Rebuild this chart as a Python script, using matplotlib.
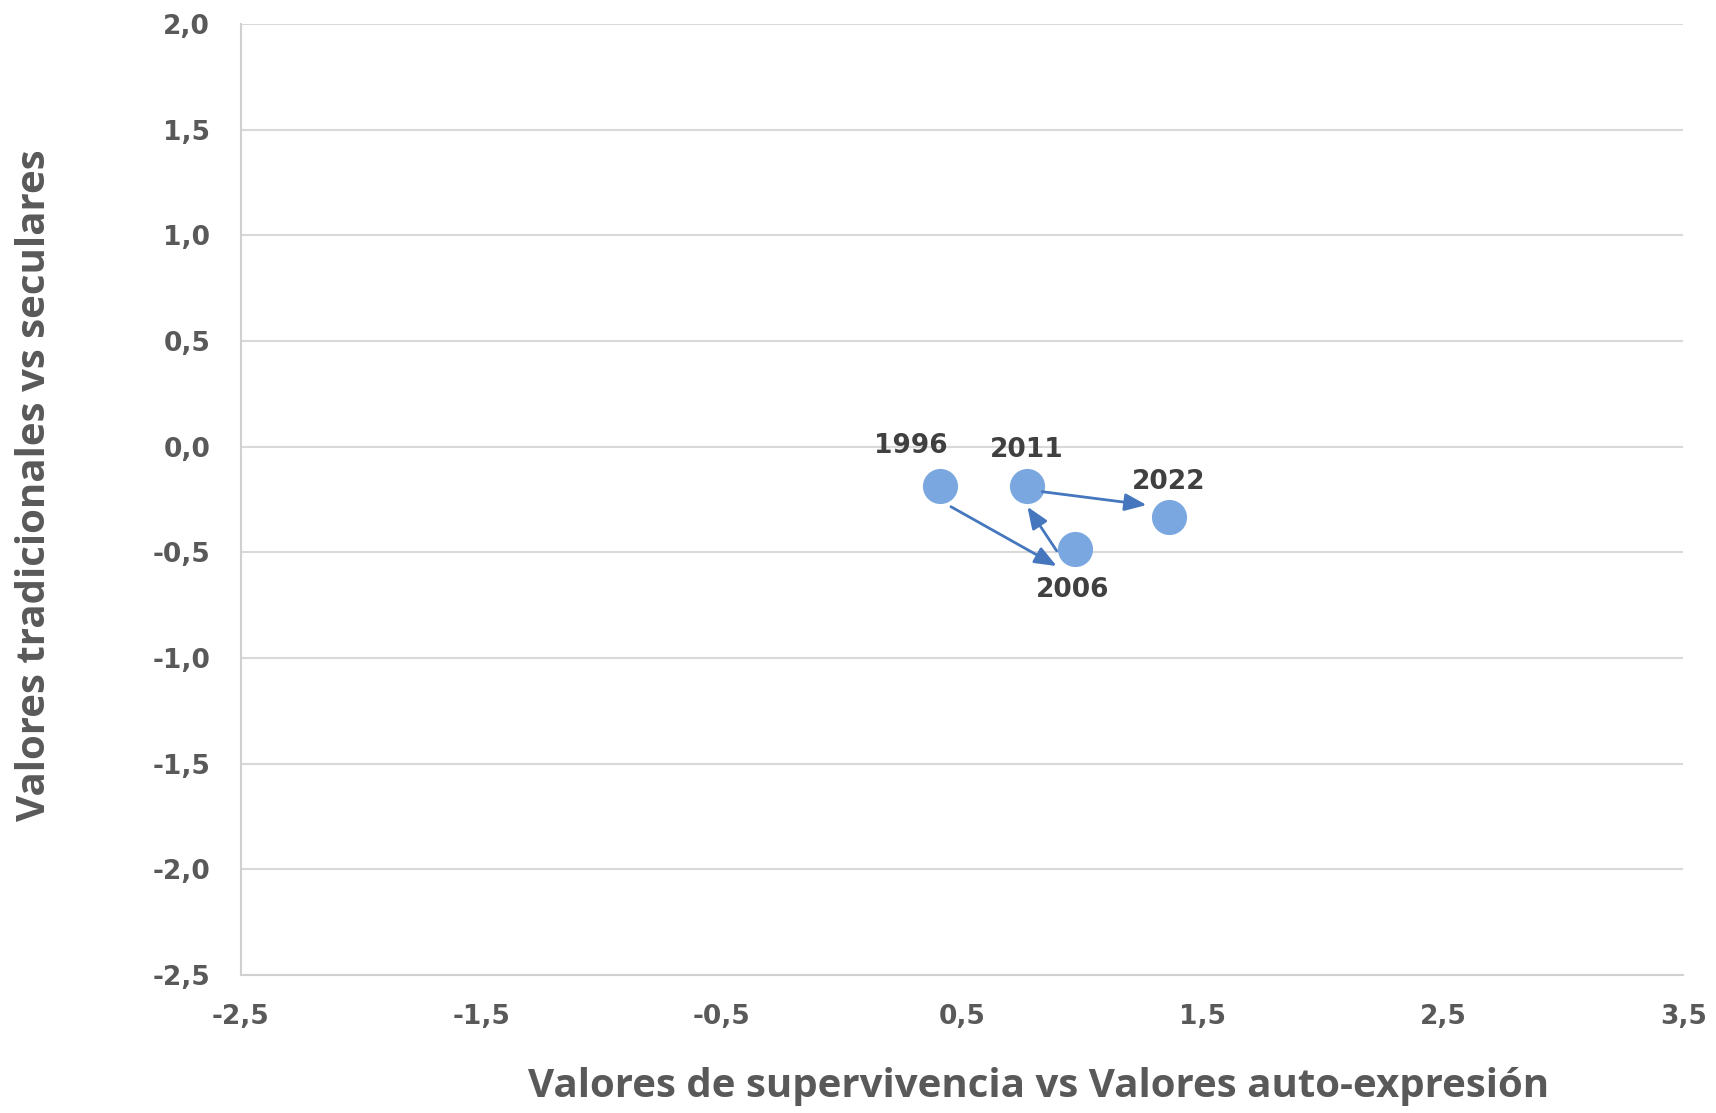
import matplotlib
matplotlib.use("Agg")
import matplotlib.pyplot as plt

years = ["1996", "2006", "2011", "2022"]
x_vals = [0.41, 0.97, 0.77, 1.36]
y_vals = [-0.186, -0.486, -0.186, -0.332]
x_ticks = [-2.5, -1.5, -0.5, 0.5, 1.5, 2.5, 3.5]
y_ticks = [-2.5, -2.0, -1.5, -1.0, -0.5, 0.0, 0.5, 1.0, 1.5, 2.0]
label_offsets = {"1996": (-21, 29), "2006": (-2, -29), "2011": (0, 26), "2022": (0, 25)}

# hand-drawn connector arrows (start -> end, in data units)
arrow_x0 = [0.454, 0.894, 0.834]
arrow_y0 = [-0.284, -0.493, -0.213]
arrow_x1 = [0.894, 0.772, 1.268]
arrow_y1 = [-0.565, -0.284, -0.276]

plt.rcParams['font.family'] = ['Open Sans', 'DejaVu Sans']
num_font = ['DejaVu Sans']
grey = "#595959"

fig = plt.figure(figsize=(17.16, 11.13), dpi=100)
ax = fig.add_axes([0.1403, 0.124, 0.8406, 0.8544])

ax.set_xlim(-2.5, 3.5)
ax.set_ylim(-2.5, 2.0)
ax.set_xticks(x_ticks)
ax.set_yticks(y_ticks)
fmt = lambda v: f"{v:.1f}".replace(".", ",")
ax.set_xticklabels([fmt(v) for v in x_ticks], fontsize=19, fontweight='bold', color=grey, family=num_font)
ax.set_yticklabels([fmt(v) for v in y_ticks], fontsize=19, fontweight='bold', color=grey, family=num_font)
ax.tick_params(axis='both', length=0)
ax.tick_params(axis='x', pad=21)
ax.tick_params(axis='y', pad=22)
ax.grid(axis='y', color='#D9D9D9', linewidth=1.5)
ax.set_axisbelow(True)
for s in ['top', 'right']:
    ax.spines[s].set_visible(False)
for s in ['left', 'bottom']:
    ax.spines[s].set_color('#D0D0D0')
    ax.spines[s].set_linewidth(1.5)

ax.scatter(x_vals, y_vals, s=640, color='#7AA7DF', zorder=3, linewidths=0)

for x0, y0, x1, y1 in zip(arrow_x0, arrow_y0, arrow_x1, arrow_y1):
    ax.annotate("", xy=(x1, y1), xytext=(x0, y0),
                arrowprops=dict(arrowstyle='-|>,head_length=0.55,head_width=0.22',
                                color='#4677BE', lw=2.0, mutation_scale=24,
                                shrinkA=0, shrinkB=0),
                zorder=4)

for yr, xv, yv in zip(years, x_vals, y_vals):
    dx, dy = label_offsets[yr]
    ax.annotate(yr, (xv, yv), xytext=(dx, dy), textcoords='offset points',
                ha='center', va='center', fontsize=19, fontweight='bold', color='#404040',
                family=num_font)

ax.set_xlabel("Valores de supervivencia vs Valores auto-expresión", fontsize=29,
              fontweight='bold', color=grey)
ax.set_ylabel("Valores tradicionales vs seculares", fontsize=29,
              fontweight='bold', color=grey)
ax.xaxis.label.set_va('center')
ax.yaxis.label.set_va('center')
ax.xaxis.set_label_coords(0.553, -0.1175)
ax.yaxis.set_label_coords(-0.1427, 0.5155)

fig.savefig("out.png", dpi=100)
